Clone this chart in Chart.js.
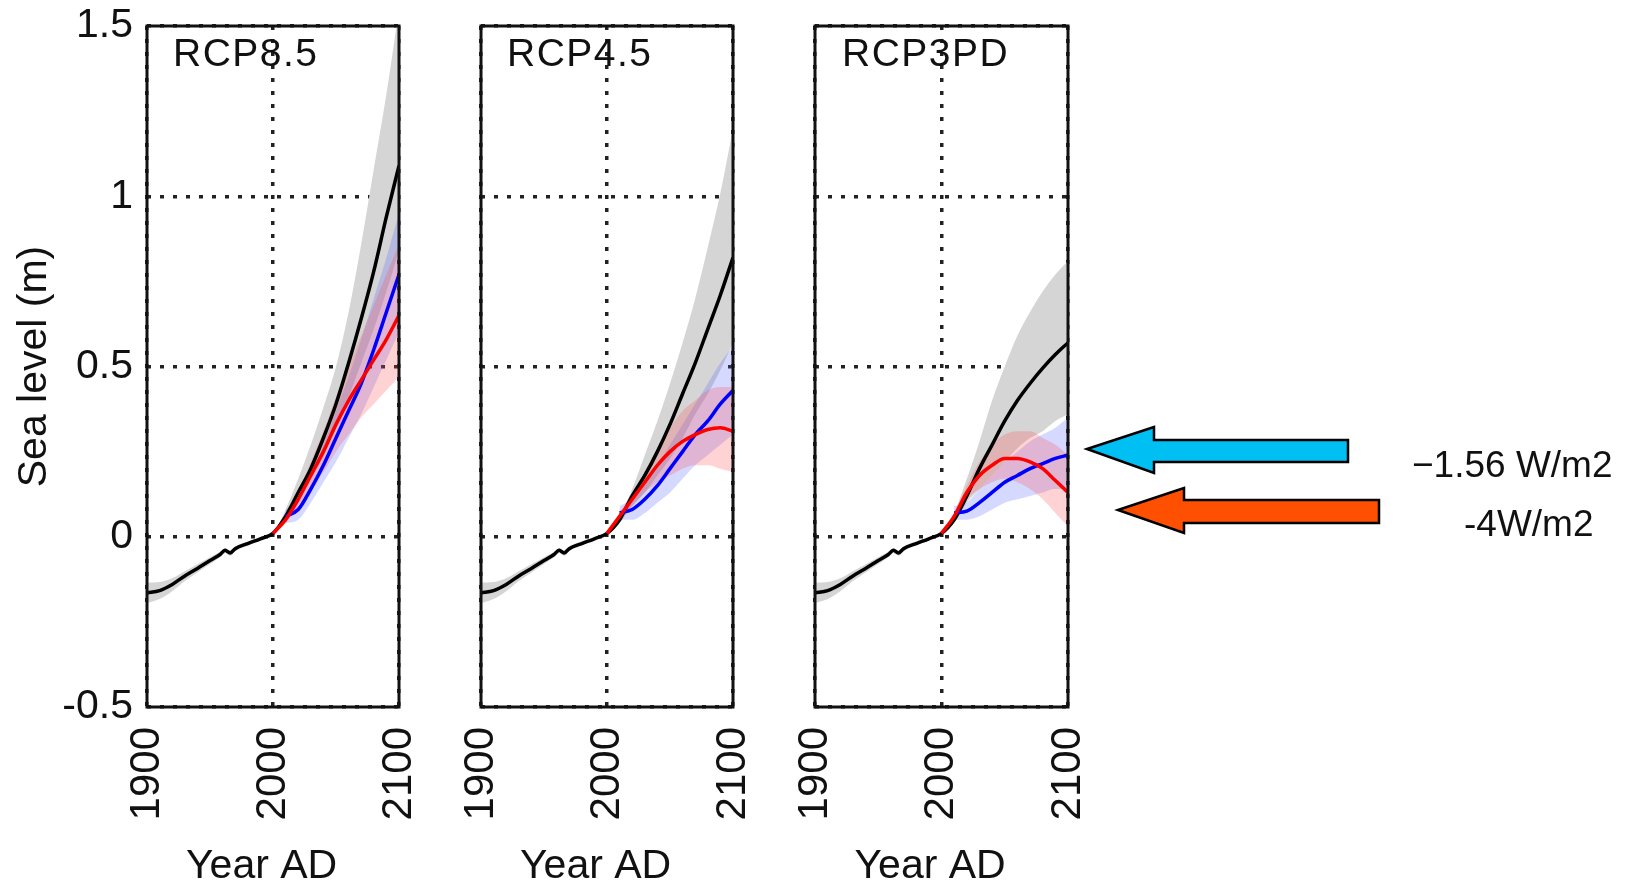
<!DOCTYPE html>
<html>
<head>
<meta charset="utf-8">
<script src="https://cdn.jsdelivr.net/npm/chart.js@4"></script>
<style>
  html, body { margin: 0; padding: 0; background: #fff; }
  #page { position: relative; width: 1629px; height: 887px; overflow: hidden; font-family: "Liberation Sans", Arial, sans-serif; color: #111; }
  #page canvas { position: absolute; left: 0; top: 0; }
  .lbl { position: absolute; font-size: 39px; line-height: 39px; letter-spacing: 1.5px; white-space: nowrap; }
  .note { position: absolute; font-size: 37px; line-height: 37px; white-space: nowrap; }
  svg { position: absolute; left: 0; top: 0; }
</style>
</head>
<body>
<div id="page">
  <canvas id="p1" width="1629" height="887"></canvas>
  <canvas id="p2" width="1629" height="887"></canvas>
  <canvas id="p3" width="1629" height="887"></canvas>
  <div class="lbl" style="left:173px; top:33px;">RCP8.5</div>
  <div class="lbl" style="left:507px; top:33px;">RCP4.5</div>
  <div class="lbl" style="left:842px; top:33px;">RCP3PD</div>
  <svg width="1629" height="887">
    <polygon points="1087,449 1154,427 1154,440 1348,440 1348,462 1154,462 1154,473"
             fill="#00bff3" stroke="#000" stroke-width="2.5" stroke-linejoin="miter"/>
    <polygon points="1118,510 1184,488 1184,500 1379,500 1379,523 1184,523 1184,533"
             fill="#ff4f00" stroke="#000" stroke-width="2.5" stroke-linejoin="miter"/>
  </svg>
  <div class="note" style="left:1412px; top:446px;">−1.56 W/m2</div>
  <div class="note" style="left:1464px; top:505px;">-4W/m2</div>
</div>
<script>
// axis ticks
const xTicks = [1900, 2000, 2100];
const yTicks = [-0.5, 0, 0.5, 1, 1.5];

// observed record (1900-1990), shared by all panels
const histYears = [1900, 1910, 1920, 1930, 1940, 1950, 1958, 1962, 1966, 1970, 1980, 1990];
const histLevel = [-0.165, -0.158, -0.14, -0.115, -0.093, -0.07, -0.052, -0.04, -0.048, -0.035, -0.02, -0.006];
const histHi    = [-0.135, -0.133, -0.122, -0.101, -0.081, -0.06, -0.044, -0.033, -0.04, -0.028, -0.014, -0.002];
const histLo    = [-0.195, -0.183, -0.16, -0.13, -0.105, -0.08, -0.06, -0.048, -0.056, -0.043, -0.026, -0.01];

// projections
const projYears = [2000, 2010, 2020, 2030, 2040, 2050, 2060, 2070, 2080, 2090, 2100];
const lateYears = [2010, 2020, 2030, 2040, 2050, 2060, 2070, 2080, 2090, 2100];

// RCP8.5
const black85  = [0.01, 0.06, 0.13, 0.20, 0.29, 0.39, 0.51, 0.64, 0.78, 0.94, 1.09];
const grey85Hi = [0.01, 0.08, 0.17, 0.27, 0.38, 0.50, 0.66, 0.86, 1.08, 1.30, 1.55];
const grey85Lo = [0.01, 0.05, 0.11, 0.17, 0.24, 0.32, 0.41, 0.51, 0.61, 0.72, 0.84];
const blue85   = [0.06, 0.08, 0.14, 0.21, 0.29, 0.37, 0.45, 0.55, 0.66, 0.77];
const blue85Hi = [0.08, 0.11, 0.18, 0.27, 0.37, 0.47, 0.58, 0.70, 0.82, 0.95];
const blue85Lo = [0.04, 0.05, 0.10, 0.16, 0.22, 0.29, 0.36, 0.44, 0.52, 0.60];
const red85    = [0.01, 0.05, 0.11, 0.18, 0.25, 0.33, 0.40, 0.46, 0.52, 0.58, 0.65];
const red85Hi  = [0.01, 0.06, 0.13, 0.22, 0.31, 0.41, 0.50, 0.59, 0.68, 0.77, 0.86];
const red85Lo  = [0.01, 0.04, 0.09, 0.14, 0.19, 0.25, 0.30, 0.35, 0.39, 0.43, 0.47];

// RCP4.5
const black45  = [0.01, 0.05, 0.12, 0.18, 0.25, 0.33, 0.42, 0.51, 0.61, 0.71, 0.82];
const grey45Hi = [0.01, 0.06, 0.14, 0.24, 0.34, 0.45, 0.57, 0.70, 0.85, 1.01, 1.20];
const grey45Lo = [0.01, 0.04, 0.09, 0.13, 0.18, 0.23, 0.29, 0.36, 0.42, 0.49, 0.57];
const blue45   = [0.07, 0.08, 0.11, 0.15, 0.20, 0.25, 0.30, 0.34, 0.39, 0.43];
const blue45Hi = [0.09, 0.11, 0.15, 0.21, 0.27, 0.33, 0.39, 0.45, 0.51, 0.56];
const blue45Lo = [0.05, 0.05, 0.07, 0.10, 0.13, 0.17, 0.21, 0.24, 0.27, 0.30];
const red45    = [0.01, 0.06, 0.11, 0.16, 0.21, 0.25, 0.28, 0.30, 0.315, 0.32, 0.31];
const red45Hi  = [0.01, 0.07, 0.13, 0.19, 0.26, 0.32, 0.37, 0.40, 0.43, 0.44, 0.44];
const red45Lo  = [0.01, 0.05, 0.09, 0.13, 0.16, 0.18, 0.20, 0.21, 0.21, 0.20, 0.19];

// RCP3PD
const black3   = [0.01, 0.05, 0.12, 0.20, 0.27, 0.34, 0.40, 0.45, 0.495, 0.535, 0.57];
const grey3Hi  = [0.01, 0.07, 0.17, 0.28, 0.40, 0.50, 0.59, 0.66, 0.72, 0.77, 0.81];
const grey3Lo  = [0.01, 0.04, 0.10, 0.14, 0.18, 0.22, 0.26, 0.29, 0.31, 0.34, 0.36];
const blue3    = [0.07, 0.075, 0.10, 0.13, 0.16, 0.18, 0.20, 0.215, 0.23, 0.24];
const blue3Hi  = [0.09, 0.10, 0.14, 0.18, 0.22, 0.25, 0.28, 0.30, 0.32, 0.35];
const blue3Lo  = [0.05, 0.05, 0.06, 0.08, 0.10, 0.11, 0.12, 0.13, 0.14, 0.14];
const red3     = [0.01, 0.06, 0.13, 0.18, 0.21, 0.23, 0.23, 0.22, 0.20, 0.165, 0.13];
const red3Hi   = [0.01, 0.07, 0.15, 0.22, 0.27, 0.30, 0.31, 0.31, 0.29, 0.27, 0.24];
const red3Lo   = [0.01, 0.05, 0.11, 0.14, 0.16, 0.17, 0.16, 0.14, 0.11, 0.07, 0.03];

const FONT = '"Liberation Sans", Arial, sans-serif';
const INK = '#111';

function pts(xs, ys) {
    return xs.map((x, i) => ({ x: x, y: ys[i] }));
}

function band(xs, hi, lo, color, order) {
    return [
        { data: pts(xs, hi), borderWidth: 0, backgroundColor: color, fill: '+1', order: order },
        { data: pts(xs, lo), borderWidth: 0, fill: false, order: order }
    ];
}

function line(xs, ys, color, width, order) {
    return { data: pts(xs, ys), borderColor: color, borderWidth: width, fill: false, order: order };
}

// closed frame round the plot area
const boxPlugin = {
    id: 'box',
    afterDraw(chart) {
        const a = chart.chartArea;
        const c = chart.ctx;
        c.save();
        c.strokeStyle = INK;
        c.lineWidth = 3;
        c.strokeRect(a.left, a.top, a.right - a.left, a.bottom - a.top);
        c.restore();
    }
};

function makePanel(id, s, pad, first) {
    const allYears = histYears.concat(projYears);
    const datasets = [].concat(
        band(allYears, histHi.concat(s.greyHi), histLo.concat(s.greyLo), '#d5d5d5', 50),
        band(lateYears, s.blueHi, s.blueLo, 'rgba(80, 90, 255, 0.24)', 40),
        band(projYears, s.redHi, s.redLo, 'rgba(255, 70, 70, 0.24)', 30),
        [line(allYears, histLevel.concat(s.black), '#000', 3.5, 20),
         line(lateYears, s.blue, '#0000ff', 3.5, 10),
         line(projYears, s.red, '#ff0000', 3.5, 5)]
    );

    new Chart(document.getElementById(id), {
        type: 'line',
        data: { datasets: datasets },
        options: {
            responsive: false,
            animation: false,
            devicePixelRatio: 1,
            layout: { padding: { left: pad.left, right: pad.right, top: 26, bottom: 0 } },
            plugins: { legend: { display: false }, tooltip: { enabled: false } },
            elements: {
                point: { radius: 0 },
                line: { cubicInterpolationMode: 'monotone' }
            },
            scales: {
                x: {
                    type: 'linear',
                    min: 1900,
                    max: 2100,
                    afterBuildTicks: sc => { sc.ticks = xTicks.map(v => ({ value: v })); },
                    afterFit: sc => { sc.height = 180; },
                    ticks: {
                        minRotation: 90, maxRotation: 90, padding: 20,
                        font: { family: FONT, size: 42 }, color: INK,
                        callback: v => String(v)
                    },
                    grid: { color: '#222', lineWidth: 3.5, drawTicks: false },
                    border: { display: false, dash: [4, 9] },
                    // trailing spaces nudge the centred title a little left, as in the original
                    title: { display: true, text: 'Year AD  ', font: { family: FONT, size: 41, lineHeight: 1.0 }, color: INK, padding: 0 }
                },
                y: {
                    min: -0.5,
                    max: 1.5,
                    afterBuildTicks: sc => { sc.ticks = yTicks.map(v => ({ value: v })); },
                    afterFit: sc => {
                        sc.width = first ? 147 : 0;
                        sc.paddingTop = 0;
                        sc.paddingBottom = 0;
                    },
                    ticks: {
                        display: first, padding: 14,
                        font: { family: FONT, size: 41 }, color: INK,
                        callback: v => String(v)
                    },
                    grid: { color: '#222', lineWidth: 3.5, drawTicks: false },
                    border: { display: false, dash: [4, 9] },
                    title: { display: first, text: 'Sea level (m)', font: { family: FONT, size: 41 }, color: INK, padding: { top: 10, bottom: 0 } }
                }
            }
        },
        plugins: [boxPlugin]
    });
}

makePanel('p1', {
    black: black85, greyHi: grey85Hi, greyLo: grey85Lo,
    blue: blue85, blueHi: blue85Hi, blueLo: blue85Lo,
    red: red85, redHi: red85Hi, redLo: red85Lo
}, { left: 0, right: 1230 }, true);

makePanel('p2', {
    black: black45, greyHi: grey45Hi, greyLo: grey45Lo,
    blue: blue45, blueHi: blue45Hi, blueLo: blue45Lo,
    red: red45, redHi: red45Hi, redLo: red45Lo
}, { left: 481, right: 896 }, false);

makePanel('p3', {
    black: black3, greyHi: grey3Hi, greyLo: grey3Lo,
    blue: blue3, blueHi: blue3Hi, blueLo: blue3Lo,
    red: red3, redHi: red3Hi, redLo: red3Lo
}, { left: 815, right: 561 }, false);
</script>
</body>
</html>
